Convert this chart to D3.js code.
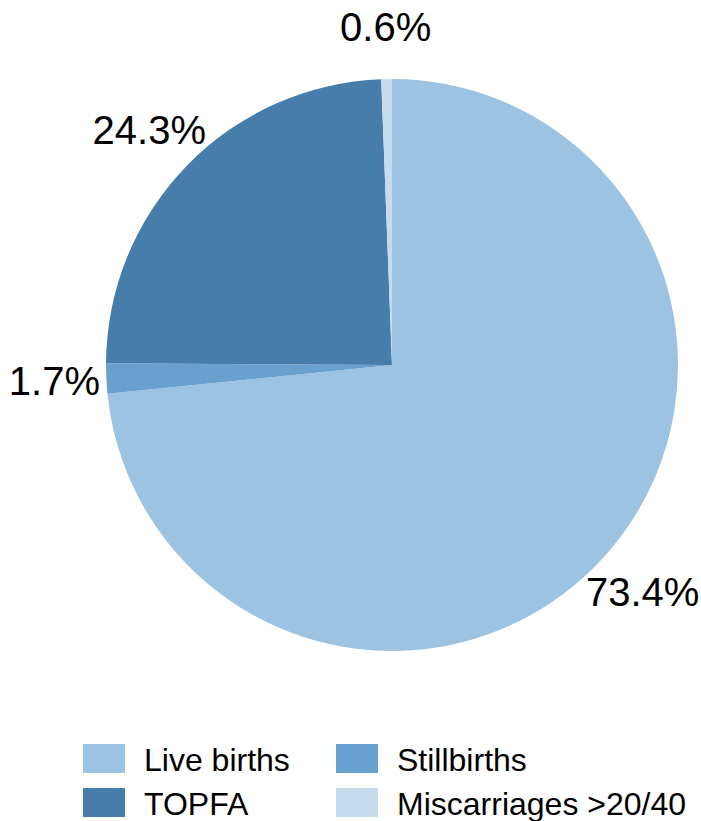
<!DOCTYPE html>
<html>
<head>
<meta charset="utf-8">
<script src="https://cdn.jsdelivr.net/npm/d3@7"></script>
<style>
  html, body { margin: 0; padding: 0; background: #fff; }
  svg { display: block; font-family: Arial, "Liberation Sans", Helvetica, sans-serif; }
</style>
</head>
<body>
<svg id="chart" width="701" height="821"></svg>
<script>
// Pregnancy outcomes, share of all cases (%)
const categories = ["Live births", "Stillbirths", "TOPFA", "Miscarriages >20/40"];
const values = [73.4, 1.7, 24.3, 0.6];
const colors = ["#9dc3e2", "#68a0cf", "#467dab", "#c5dbee"];
// legend order (two columns, two rows)
const legendOrder = ["Live births", "Stillbirths", "TOPFA", "Miscarriages >20/40"];

const data = categories.map((c, i) => ({ name: c, value: values[i], color: colors[i] }));

const svg = d3.select("#chart");
const cx = 392, cy = 365, R = 286, labelR = 338;

const pie = d3.pie().value(d => d.value).sort(null);
const arc = d3.arc().innerRadius(0).outerRadius(R);
const labelArc = d3.arc().innerRadius(labelR).outerRadius(labelR);

const g = svg.append("g").attr("transform", `translate(${cx},${cy})`);
const arcs = pie(data);

g.selectAll("path.slice")
  .data(arcs)
  .join("path")
  .attr("class", "slice")
  .attr("d", arc)
  .attr("fill", d => d.data.color);

g.selectAll("text.pct")
  .data(arcs)
  .join("text")
  .attr("class", "pct")
  .attr("transform", d => `translate(${labelArc.centroid(d)})`)
  .attr("text-anchor", "middle")
  .attr("dy", "0.36em")
  .attr("font-size", 40)
  .attr("fill", "#000")
  .text(d => d.data.value.toFixed(1) + "%");

// Legend
const legend = svg.append("g").attr("transform", "translate(83,744)");
const colX = [0, 253], rowY = [0, 44];
legend.selectAll("g.item")
  .data(legendOrder.map(n => data.find(d => d.name === n)))
  .join("g")
  .attr("class", "item")
  .attr("transform", (d, i) => `translate(${colX[i % 2]},${rowY[Math.floor(i / 2)]})`)
  .each(function (d) {
    const it = d3.select(this);
    it.append("rect").attr("width", 42).attr("height", 29).attr("fill", d.color);
    it.append("text")
      .attr("x", 61).attr("y", 27)
      .attr("font-size", 32)
      .attr("fill", "#000")
      .text(d.name);
  });
</script>
</body>
</html>
